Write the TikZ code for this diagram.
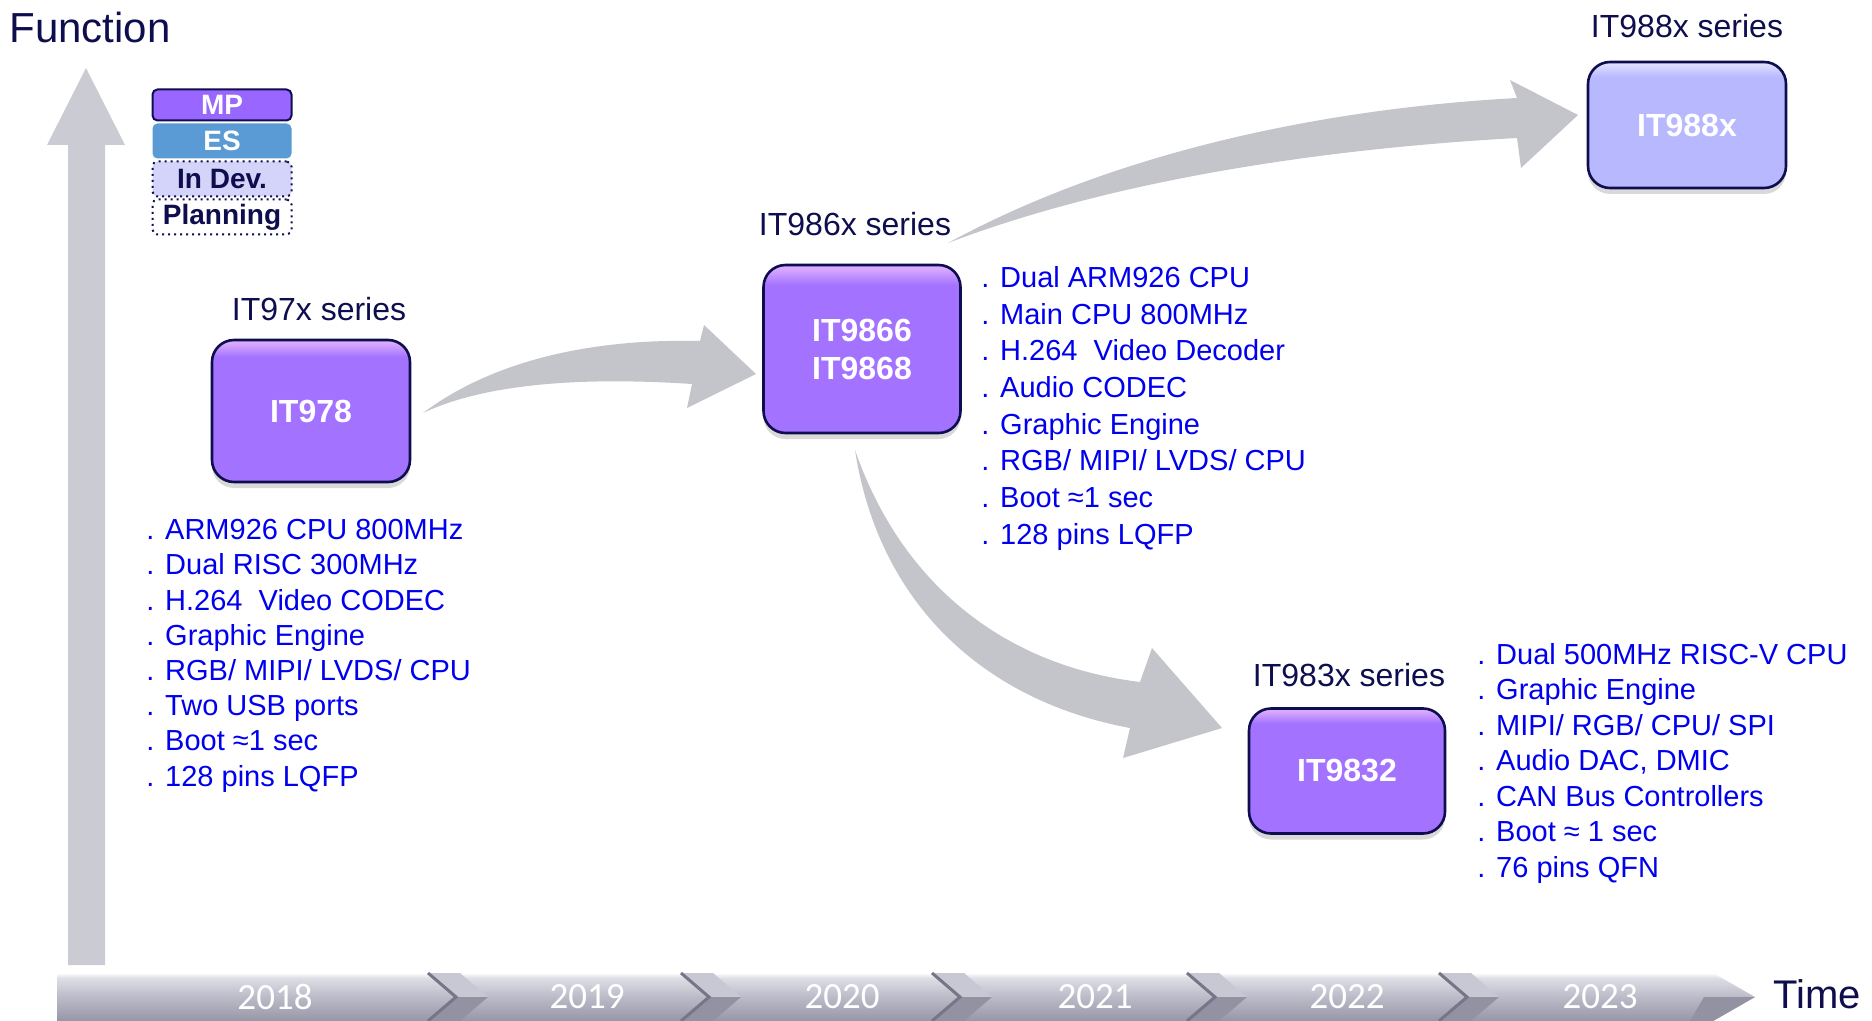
\documentclass[tikz,border=0pt]{standalone}
\usepackage{fontspec}
\setmainfont{Liberation Sans}
\newfontfamily\yearfont{Carlito}
\usetikzlibrary{shadows}

\definecolor{navy}{RGB}{14,14,78}
\definecolor{bullet}{RGB}{0,0,238}
\definecolor{chipfill}{RGB}{163,114,255}
\definecolor{chiptop}{RGB}{218,170,255}
\definecolor{planfill}{RGB}{184,184,255}
\definecolor{plantop}{RGB}{222,222,255}
\definecolor{arrowgray}{RGB}{196,196,203}
\definecolor{axisgray}{RGB}{203,203,211}
\definecolor{esblue}{RGB}{91,155,213}
\definecolor{devfill}{RGB}{212,212,250}
\definecolor{mpfill}{RGB}{153,102,255}
\definecolor{bardark}{RGB}{150,150,166}
\definecolor{barmid}{RGB}{182,182,196}
\definecolor{barlight}{RGB}{222,222,230}
\definecolor{facetup}{RGB}{200,200,212}
\definecolor{facetdown}{RGB}{146,146,162}
\definecolor{notchgray}{RGB}{118,118,136}

\pgfdeclareverticalshading{chipshade}{100bp}{color(0bp)=(chipfill); color(25bp)=(chipfill); color(69bp)=(chipfill); color(74bp)=(chiptop); color(100bp)=(chiptop)}
\pgfdeclareverticalshading{planshade}{100bp}{color(0bp)=(planfill); color(25bp)=(planfill); color(69bp)=(planfill); color(74bp)=(plantop); color(100bp)=(plantop)}
\pgfdeclareverticalshading{barshade}{100bp}{color(0bp)=(bardark); color(25bp)=(bardark); color(47bp)=(barmid); color(70bp)=(barlight); color(75bp)=(white); color(100bp)=(white)}

\tikzset{
    chip/.style={draw=navy, line width=1.3pt, rounded corners=11pt, shade, shading=chipshade,
        text=white, font=\fontsize{16}{19}\selectfont\bfseries, align=center,
        drop shadow={shadow xshift=0pt, shadow yshift=-3pt, opacity=0.3}},
    series/.style={text=navy, font=\fontsize{16}{19}\selectfont},
    specs/.style={text=bullet, font=\fontsize{14.5}{17.6}\selectfont, align=left, anchor=north west, inner sep=0pt},
    legendbox/.style={minimum width=69.5pt, minimum height=17.5pt, inner sep=0pt, rounded corners=2.5pt,
        font=\fontsize{14}{16}\selectfont\bfseries},
    year/.style={text=white, font=\yearfont\fontsize{18.5}{20}\selectfont},
    bigarrow/.style={fill=arrowgray},
    notch/.style={draw=notchgray, line width=1.5pt, line join=miter},
}

\begin{document}
\begin{tikzpicture}[x=0.5pt,y=-0.5pt]
        \useasboundingbox (0,0) rectangle (1872,1021);
        \fill[axisgray] (68,965) -- (68,145) -- (47,145) -- (86,68) -- (125,145) -- (105,145) -- (105,965) -- cycle;
        \node[text=navy, font=\fontsize{21}{24}\selectfont, anchor=west, inner sep=0pt] (fn) at (9,27) {Function};
        \node[legendbox, fill=mpfill, draw=navy, line width=1pt, text=white, minimum height=15.5pt] (mp) at (222,105) {MP};
        \node[legendbox, fill=esblue, text=white] (es) at (222,141) {ES};
        \node[legendbox, fill=devfill, draw=navy, dotted, line width=1pt, text=navy] (dev) at (222,179) {In Dev.};
        \node[legendbox, fill=white, draw=navy, dotted, line width=1pt, text=navy] (plan) at (222,217) {Planning};
        \shade[shading=barshade] (57,973) -- (1713,973) -- (1755,997) -- (1713,1021) -- (57,1021) -- cycle;
        \fill[facetdown] (1713,1021) -- (1755,997) -- (1704,997) -- (1690,1021) -- cycle;
        \fill[facetup] (428,973) -- (460,973) -- (488,997) -- (456,997) -- cycle;
        \fill[facetdown] (456,997) -- (488,997) -- (460,1021) -- (428,1021) -- cycle;
        \draw[notch] (428,973) -- (456,997) -- (428,1021);
        \fill[facetup] (681,973) -- (713,973) -- (741,997) -- (709,997) -- cycle;
        \fill[facetdown] (709,997) -- (741,997) -- (713,1021) -- (681,1021) -- cycle;
        \draw[notch] (681,973) -- (709,997) -- (681,1021);
        \fill[facetup] (932,973) -- (964,973) -- (992,997) -- (960,997) -- cycle;
        \fill[facetdown] (960,997) -- (992,997) -- (964,1021) -- (932,1021) -- cycle;
        \draw[notch] (932,973) -- (960,997) -- (932,1021);
        \fill[facetup] (1187,973) -- (1219,973) -- (1247,997) -- (1215,997) -- cycle;
        \fill[facetdown] (1215,997) -- (1247,997) -- (1219,1021) -- (1187,1021) -- cycle;
        \draw[notch] (1187,973) -- (1215,997) -- (1187,1021);
        \fill[facetup] (1439,973) -- (1471,973) -- (1499,997) -- (1467,997) -- cycle;
        \fill[facetdown] (1467,997) -- (1499,997) -- (1471,1021) -- (1439,1021) -- cycle;
        \draw[notch] (1439,973) -- (1467,997) -- (1439,1021);
        \node[year] (y18) at (275,997) {2018};
        \node[year] (y19) at (587,997) {2019};
        \node[year] (y20) at (842,997) {2020};
        \node[year] (y21) at (1095,997) {2021};
        \node[year] (y22) at (1347,997) {2022};
        \node[year] (y23) at (1600,997) {2023};
        \node[text=navy, font=\fontsize{20}{24}\selectfont, anchor=west, inner sep=0pt] (time) at (1773,994) {Time};
        \fill[bigarrow] (423,413) .. controls (480,370) and (570,338) .. (700,341) -- (704,325) -- (756,374) -- (687,408) -- (692,384) .. controls (570,376) and (480,386) .. cycle;
        \fill[bigarrow] (855,450) .. controls (878,600) and (980,700) .. (1130,728) -- (1123,758) -- (1222,728) -- (1152,648) -- (1140,682) .. controls (1000,665) and (900,580) .. cycle;
        \fill[bigarrow] (948,243) .. controls (1100,160) and (1300,110) .. (1517,98) -- (1510,80) -- (1578,115) -- (1521,168) -- (1517,138) .. controls (1300,150) and (1100,185) .. cycle;
        \node[series] (s97) at (319,309) {IT97x series};
        \node[chip, minimum width=99pt, minimum height=71pt] (c978) at (311,411) {IT978};
        \node[specs] (f978) at (146,519) {. ARM926 CPU 800MHz\\. Dual RISC 300MHz\\. H.264\ \ Video CODEC\\. Graphic Engine\\. RGB/ MIPI/ LVDS/ CPU\\. Two USB ports\\. Boot ≈1 sec\\. 128 pins LQFP};
        \node[series] (s986) at (855,224) {IT986x series};
        \node[chip, minimum width=98.5pt, minimum height=84pt] (c986) at (862,349) {IT9866\\IT9868};
        \node[specs, font=\fontsize{14.5}{18.35}\selectfont] (f986) at (981,266) {. Dual ARM926 CPU\\. Main CPU 800MHz\\. H.264\ \ Video Decoder\\. Audio CODEC\\. Graphic Engine\\. RGB/ MIPI/ LVDS/ CPU\\. Boot ≈1 sec\\. 128 pins LQFP};
        \node[series] (s983) at (1349,675) {IT983x series};
        \node[chip, minimum width=98pt, minimum height=62.5pt] (c983) at (1347,771) {IT9832};
        \node[specs, font=\fontsize{14.5}{17.75}\selectfont] (f983) at (1477,643) {. Dual 500MHz RISC-V CPU\\. Graphic Engine\\. MIPI/ RGB/ CPU/ SPI\\. Audio DAC, DMIC\\. CAN Bus Controllers\\. Boot ≈ 1 sec\\. 76 pins QFN};
        \node[series] (s988) at (1687,26) {IT988x series};
        \node[chip, shading=planshade, minimum width=99pt, minimum height=63pt] (c988) at (1687,125) {IT988x};
    \end{tikzpicture}
\end{document}
